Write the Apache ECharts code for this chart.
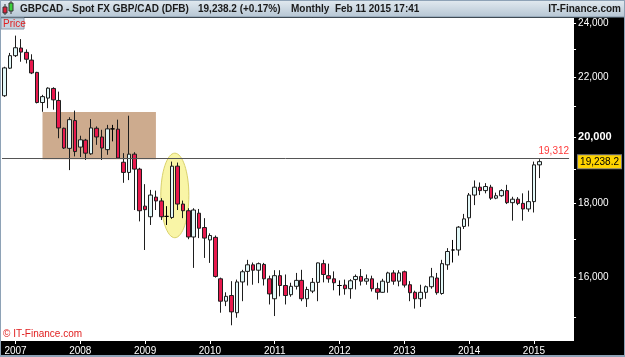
<!DOCTYPE html>
<html>
<head>
<meta charset="utf-8">
<script src="https://cdn.jsdelivr.net/npm/echarts@6/dist/echarts.min.js"></script>
<style>
html, body { margin: 0; padding: 0; background: #000; }
#chart { width: 625px; height: 357px; }
</style>
</head>
<body>
<div id="chart"></div>
<script>
// monthly GBPCAD candles, Nov 2006 .. Feb 2015, rows are [open, close, low, high]
var startYear = 2006;
var startMonth = 11;
var candles = [
    [21370, 22340, 21330, 22380], [22330, 22780, 22300, 22880],
    [22780, 23070, 22730, 23520], [23060, 22910, 22560, 23390], [22900, 22650, 22500, 23010], [22620, 22160, 22120, 22830],
    [22180, 21140, 21110, 22200], [21140, 21340, 20830, 21400], [21290, 21630, 20950, 21660], [21620, 21230, 20900, 21660],
    [21210, 20300, 19970, 21510], [20290, 19660, 19630, 20310], [19650, 20570, 18980, 20650], [20540, 19550, 19400, 20870],
    [19690, 19920, 19380, 20050], [19910, 19500, 19290, 19950], [19480, 20300, 19450, 20590], [20290, 20010, 19760, 20350],
    [20010, 19660, 19290, 20240], [19610, 20270, 19450, 20400], [20270, 20270, 19870, 20400], [20260, 19350, 19330, 20570],
    [19220, 18910, 18600, 19500], [18910, 19470, 18680, 20700], [19470, 19010, 17810, 19530], [19010, 17790, 17490, 19050],
    [17920, 17820, 16710, 18560], [17620, 18240, 17390, 18390], [18180, 18070, 17810, 18370], [18070, 17620, 17530, 18150],
    [17630, 17630, 17390, 17920], [17600, 19100, 17560, 19240], [19100, 17980, 17810, 19210], [17980, 17790, 17580, 18080],
    [17790, 17060, 17000, 17860], [17060, 17810, 16240, 17860], [17720, 17300, 17030, 17840], [17320, 17030, 16500, 17580],
    [16980, 17100, 16370, 17160], [17050, 16020, 15990, 17100], [15960, 15400, 15120, 15990], [15400, 15520, 15280, 15620],
    [15540, 15140, 14820, 15900], [15120, 15880, 15000, 15940], [15880, 16140, 15400, 16190], [16150, 16320, 15790, 16450],
    [16320, 16180, 15810, 16380], [16180, 16350, 15850, 16380], [16330, 15960, 15790, 16370], [15960, 15580, 15320, 16040],
    [15460, 16040, 15040, 16180], [16040, 15790, 15520, 16180], [15790, 15540, 15320, 16070], [15560, 15770, 15510, 15860],
    [15770, 15920, 15690, 16110], [15920, 15460, 15400, 16190], [15460, 15690, 15260, 15760], [15650, 15870, 15600, 15980],
    [15870, 16370, 15400, 16380], [16350, 16070, 15870, 16450], [16040, 15960, 15860, 16350], [15960, 15860, 15670, 16150],
    [15790, 15790, 15540, 15920], [15800, 15710, 15560, 15940], [15710, 15910, 15460, 15950], [15940, 16020, 15690, 16070],
    [16020, 15900, 15790, 16210], [15900, 15960, 15810, 16070], [15960, 15710, 15640, 16040], [15710, 15620, 15440, 15860],
    [15620, 15900, 15610, 15960], [15870, 16110, 15610, 16140], [16110, 15900, 15810, 16180], [15900, 16110, 15770, 16180],
    [16140, 15800, 15740, 16170], [15810, 15610, 15400, 15900], [15620, 15460, 15220, 15660], [15460, 15620, 15260, 15810],
    [15620, 15760, 15460, 15790], [15760, 16010, 15710, 16240], [15980, 15610, 15560, 16110], [15590, 16350, 15560, 16450],
    [16320, 16670, 16190, 16760], [16710, 16710, 16380, 16980], [16710, 17330, 16560, 17360], [17350, 17560, 17280, 17700],
    [17590, 18240, 17350, 18300], [18240, 18470, 17950, 18670], [18470, 18370, 18240, 18610], [18370, 18490, 18290, 18590],
    [18470, 18150, 18100, 18540], [18150, 18220, 18120, 18310], [18220, 18370, 18190, 18410], [18370, 18020, 17980, 18540],
    [18020, 18120, 17510, 18190], [18120, 18000, 17950, 18180], [18000, 17840, 17510, 18290], [17840, 18050, 17760, 18370],
    [18050, 19140, 17740, 19240], [19140, 19238.2, 18740, 19312]
];
var yLabels = [16000, 18000, 20000, 22000, 24000];
var yTicks = [15000, 16000, 17000, 18000, 19000, 20000, 21000, 22000, 23000, 24000];
var lastPrice = 19238.2;
var refLevel = 19312;
var boxTop = 20820;
var boxFrom = '2007-06';
var boxTo = '2009-03';
var padSlots = 5;

var months = [];
for (var i = 0; i < candles.length + padSlots; i++) {
    if (i >= candles.length) { months.push(''); continue; }
    var m = startMonth - 1 + i;
    months.push((startYear + Math.floor(m / 12)) + '-' + ('0' + (m % 12 + 1)).slice(-2));
}

// price axis is logarithmic: plot ln(price) on a linear axis
var logData = candles.map(function (r) { return r.map(Math.log); });

function fmt(v, d) {
    return v.toLocaleString('en-US', { minimumFractionDigits: d || 0, maximumFractionDigits: d || 0 });
}
function isJan(idx, val) { return /-01$/.test(val); }

var font = 'Liberation Sans';
var chart = echarts.init(document.getElementById('chart'));

chart.setOption({
    backgroundColor: '#000',
    animation: false,
    grid: { left: 2, right: 55, top: 18, bottom: 16 },
    xAxis: {
        type: 'category',
        data: months,
        boundaryGap: true,
        axisLine: { show: false },
        axisTick: { show: true, interval: isJan, alignWithLabel: true, length: 3, lineStyle: { color: '#fff' } },
        axisLabel: {
            interval: isJan, margin: 5, color: '#fff', fontSize: 10, fontFamily: font,
            formatter: function (v) { return v.slice(0, 4); }
        },
        splitLine: { show: false }
    },
    yAxis: {
        type: 'value',
        position: 'right',
        offset: 4,
        min: Math.log(14453),
        max: Math.log(24190),
        splitLine: { show: false },
        axisLine: { show: false },
        axisTick: { show: true, length: 3, lineStyle: { color: '#fff' }, customValues: yTicks.map(Math.log) },
        axisLabel: {
            customValues: yLabels.concat([lastPrice]).map(Math.log),
            margin: 5, color: '#fff', fontSize: 10, fontFamily: font,
            formatter: function (v) {
                var p = Math.exp(v);
                if (Math.abs(p - lastPrice) < 0.5) return '{cur|' + fmt(lastPrice, 1) + '}';
                var r = Math.round(p);
                return r === 20000 ? '{b|' + fmt(r) + '}' : fmt(r);
            },
            rich: {
                cur: { backgroundColor: '#ffd400', color: '#000', borderColor: '#808080', borderWidth: 1,
                       padding: [2, 2, 1, 2], fontSize: 10, fontFamily: font },
                b: { color: '#fff', fontWeight: 'bold', fontSize: 11, fontFamily: font }
            }
        }
    },
    series: [{
        type: 'candlestick',
        data: logData,
        barWidth: 4,
        itemStyle: {
            color: '#e2f8f8', color0: '#e8194d',
            borderColor: '#1e1e1e', borderColor0: '#1e1e1e', borderColorDoji: '#000',
            borderWidth: 1
        },
        markArea: {
            silent: true,
            itemStyle: { color: '#cdab8e' },
            data: [[{ xAxis: boxFrom, yAxis: Math.log(boxTop) }, { xAxis: boxTo, yAxis: Math.log(refLevel) }]]
        },
        markLine: {
            silent: true,
            symbol: ['none', 'none'],
            lineStyle: { color: '#555', width: 1, type: 'solid' },
            label: { position: 'insideEndTop', formatter: fmt(refLevel), color: '#ff3a3a', fontSize: 10,
                     fontFamily: font, distance: [0, 2] },
            data: [{ yAxis: Math.log(refLevel) }]
        }
    }]
});

// yellow highlight ellipse around the mid-2009 spike
var pJun = chart.convertToPixel({ gridIndex: 0 }, ['2009-06', Math.log(19500)]);
var pJul = chart.convertToPixel({ gridIndex: 0 }, ['2009-07', Math.log(17040)]);
var step = pJul[0] - pJun[0];

chart.setOption({
    graphic: [
        { type: 'rect', z: -10, shape: { x: 1, y: 18, width: 573, height: 323 }, style: { fill: '#fff' } },
        { type: 'ellipse', z: 1,
          shape: { cx: (pJun[0] + pJul[0]) / 2, cy: (pJun[1] + pJul[1]) / 2, rx: step * 2.6, ry: (pJul[1] - pJun[1]) / 2 },
          style: { fill: 'rgba(248,243,150,0.85)', stroke: '#d9d16a', lineWidth: 1 } },
        { type: 'text', z: 50, style: { x: 3, y: 334, text: '\u00a9 IT-Finance.com', fill: '#e02020',
          font: '10px "Liberation Sans"', verticalAlign: 'middle' } },
        // header bar
        { type: 'rect', z: 100, shape: { x: 0, y: 0, width: 625, height: 17 },
          style: { fill: new echarts.graphic.LinearGradient(0, 0, 0, 1, [
              { offset: 0, color: '#e3ebf1' }, { offset: 1, color: '#b5c5d3' }]), stroke: '#7f93a6', lineWidth: 1 } },
        { type: 'line', z: 101, shape: { x1: 5, y1: 4, x2: 5, y2: 15 }, style: { stroke: '#333', lineWidth: 1 } },
        { type: 'rect', z: 102, shape: { x: 3, y: 7, width: 4, height: 6 }, style: { fill: '#e0203a', stroke: '#333', lineWidth: 1 } },
        { type: 'line', z: 101, shape: { x1: 11, y1: 1, x2: 11, y2: 14 }, style: { stroke: '#333', lineWidth: 1 } },
        { type: 'rect', z: 102, shape: { x: 9, y: 3, width: 4, height: 8 }, style: { fill: '#3cd03c', stroke: '#333', lineWidth: 1 } },
        { type: 'text', z: 101, style: { x: 20, y: 9, text: 'GBPCAD - Spot FX GBP/CAD (DFB)', fill: '#1a1a1a',
          font: 'bold 10px "Liberation Sans"', verticalAlign: 'middle' } },
        { type: 'text', z: 101, style: { x: 198, y: 9, text: '19,238.2 (+0.17%)', fill: '#1a1a1a',
          font: 'bold 10px "Liberation Sans"', verticalAlign: 'middle' } },
        { type: 'text', z: 101, style: { x: 291, y: 9, text: 'Monthly  Feb 11 2015 17:41', fill: '#1a1a1a',
          font: 'bold 10px "Liberation Sans"', verticalAlign: 'middle' } },
        { type: 'text', z: 101, style: { x: 621, y: 9, text: 'IT-Finance.com', fill: '#1a1a1a', align: 'right',
          font: 'bold 10px "Liberation Sans"', verticalAlign: 'middle' } },
        // "Price" tag
        { type: 'rect', z: 100, shape: { x: 1, y: 18, width: 23, height: 11 }, style: { fill: '#c6d2de', stroke: '#8a9aaa', lineWidth: 1 } },
        { type: 'text', z: 101, style: { x: 3, y: 24, text: 'Price', fill: '#e02020', font: '10px "Liberation Sans"', verticalAlign: 'middle' } },
        // outer frame
        { type: 'rect', z: 120, shape: { x: 0.5, y: 0.5, width: 624, height: 356 }, style: { fill: 'none', stroke: '#8ea2b6', lineWidth: 1 } },
        { type: 'line', z: 120, shape: { x1: 0, y1: 356, x2: 625, y2: 356 }, style: { stroke: '#8ea2b6', lineWidth: 2 } }
    ]
});
</script>
</body>
</html>
